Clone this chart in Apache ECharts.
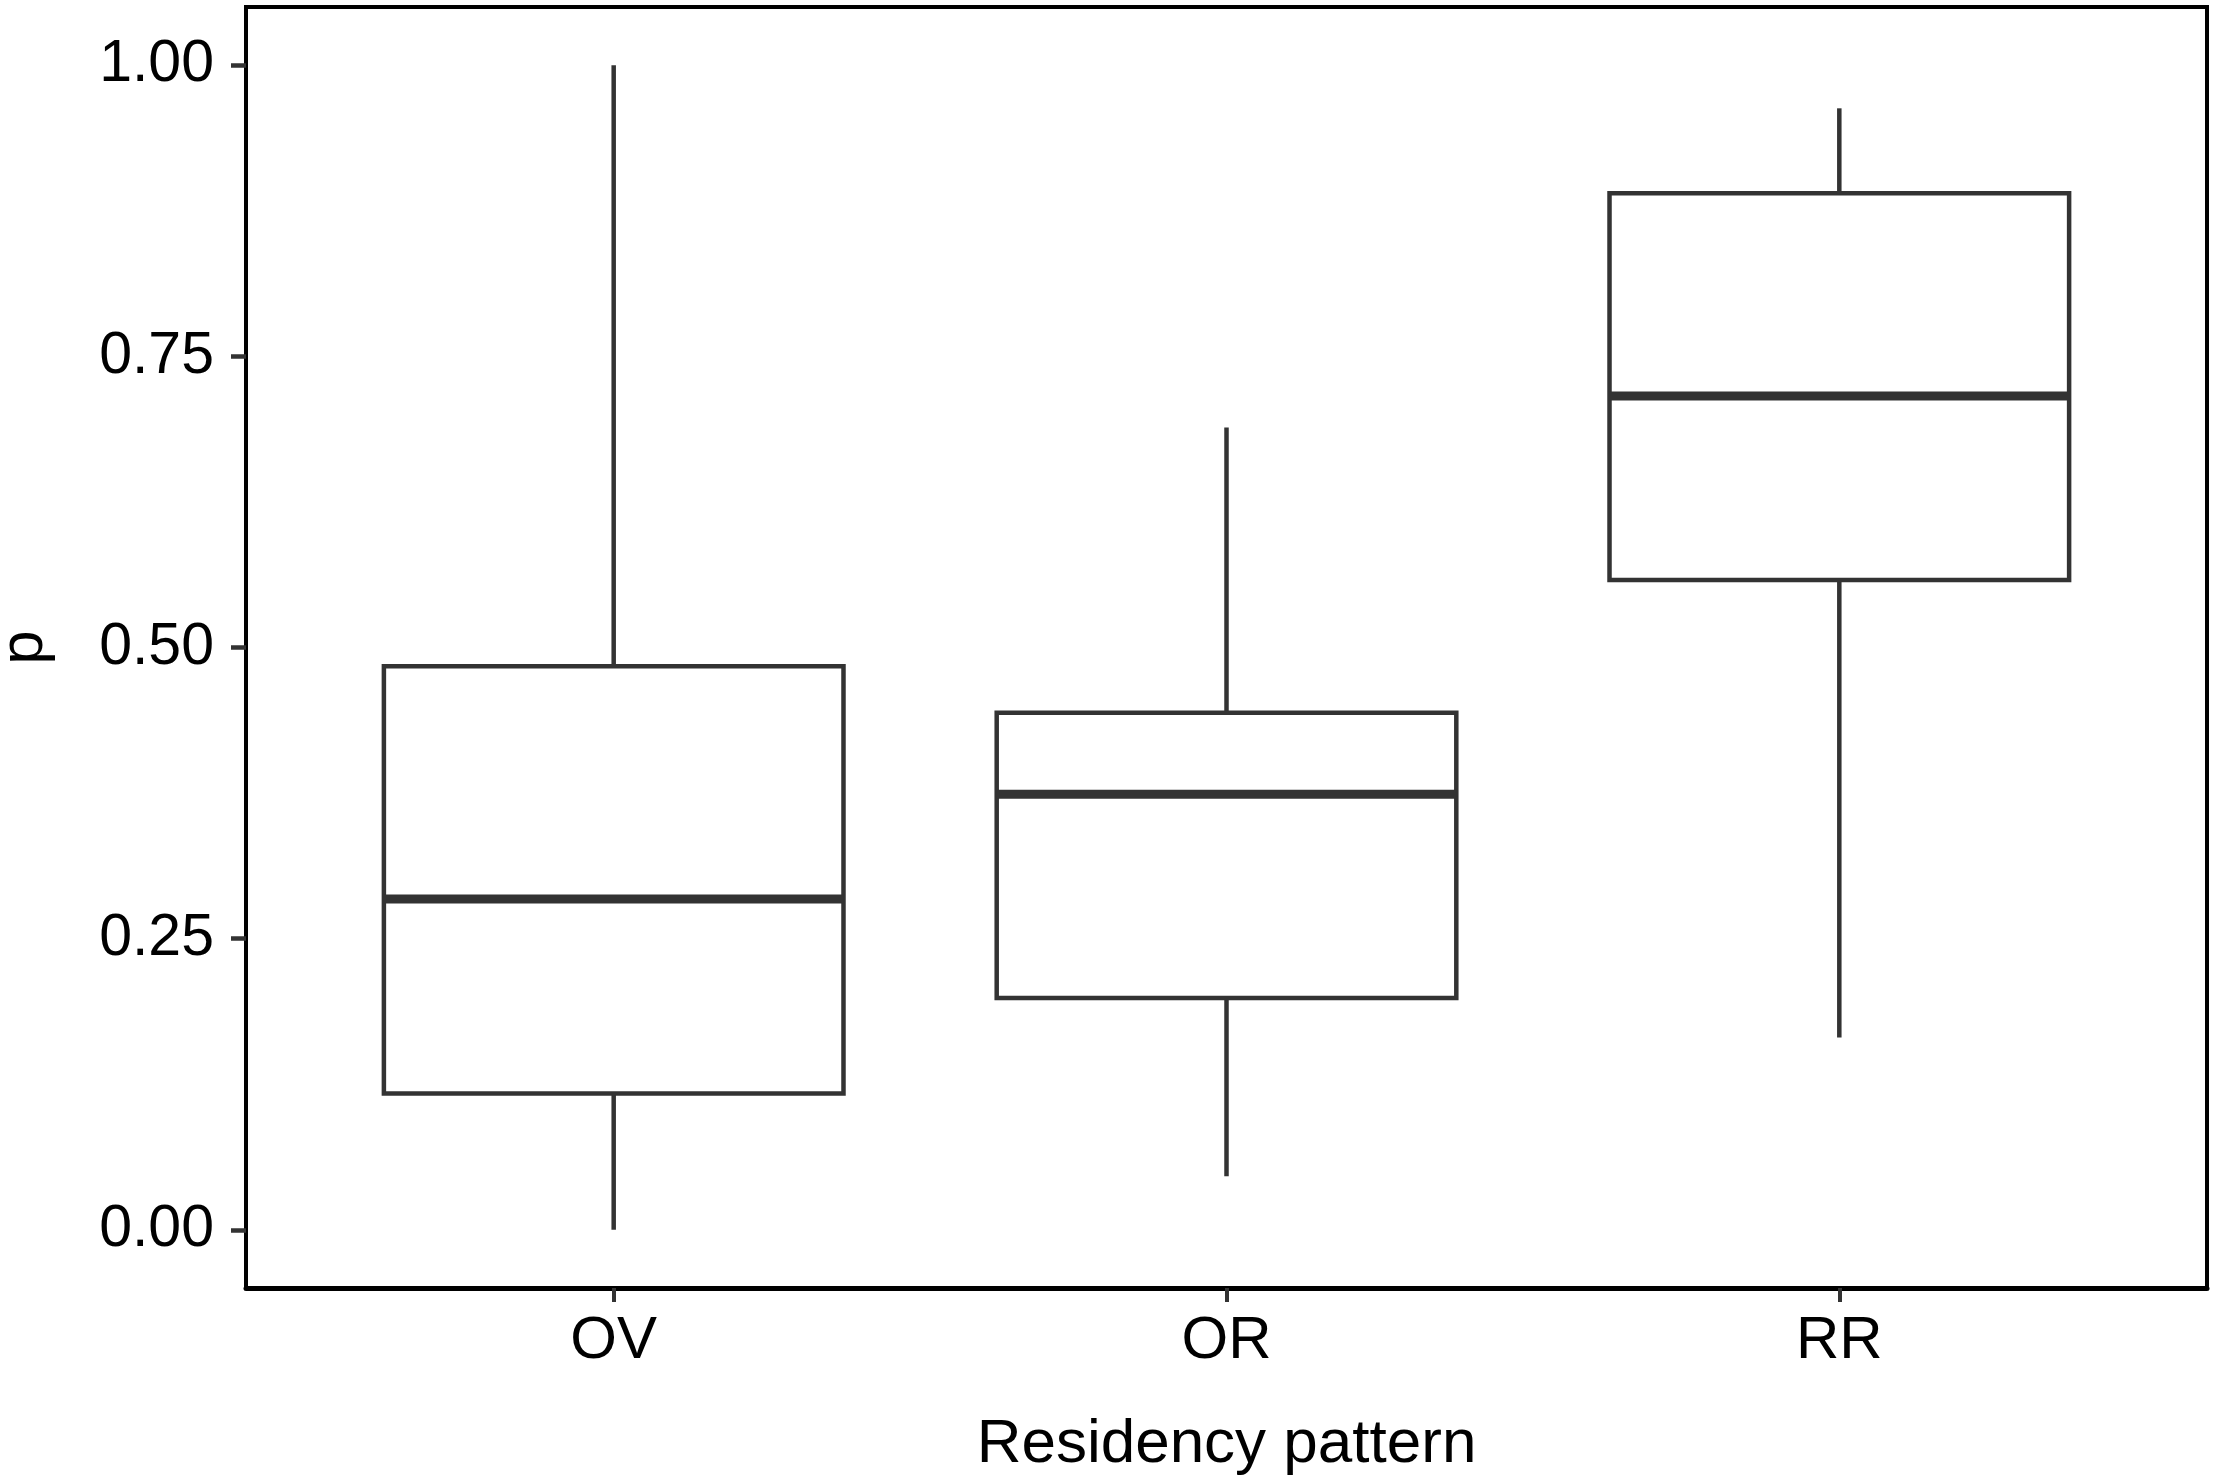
<!DOCTYPE html>
<html>
<head>
<meta charset="utf-8">
<script src="https://cdn.jsdelivr.net/npm/echarts@6/dist/echarts.min.js"></script>
<style>
html,body{margin:0;padding:0;background:#fff;}
#chart{width:2217px;height:1483px;}
</style>
</head>
<body>
<div id="chart"></div>
<script>
// Data
const categories = ['OV', 'OR', 'RR'];
const whiskerLow  = [0.000, 0.046, 0.165];
const quartile1   = [0.117, 0.199, 0.558];
const medians     = [0.284, 0.374, 0.716];
const quartile3   = [0.484, 0.444, 0.890];
const whiskerHigh = [1.000, 0.689, 0.963];
const yTickValues = [0, 0.25, 0.5, 0.75, 1];
const xTickValues = [1, 2, 3];

const FONT = "'Liberation Sans', Arial, sans-serif";
const BOX_COLOR = '#333333';
const BOX_WIDTH = 0.75;

const boxData = categories.map((c, i) => [i + 1, whiskerLow[i], quartile1[i], medians[i], quartile3[i], whiskerHigh[i]]);

const chart = echarts.init(document.getElementById('chart'), null, {renderer: 'canvas'});
chart.setOption({
  backgroundColor: '#ffffff',
  animation: false,
  grid: {
    left: 246, right: 10, top: 7, bottom: 195,
    containLabel: false, outerBoundsMode: 'none',
    show: true, borderColor: '#000000', borderWidth: 4, backgroundColor: 'transparent'
  },
  xAxis: {
    type: 'value', min: 0.4, max: 3.6,
    name: 'Residency pattern', nameLocation: 'middle', nameGap: 126,
    nameTextStyle: {fontFamily: FONT, fontSize: 62, color: '#000'},
    axisLine: {show: true, onZero: false, lineStyle: {color: '#000', width: 5}},
    axisTick: {show: true, length: 14, lineStyle: {color: BOX_COLOR, width: 4}, customValues: xTickValues},
    axisLabel: {show: true, margin: 23, fontFamily: FONT, fontSize: 60, color: '#000',
      customValues: xTickValues,
      formatter: v => categories[Math.round(v) - 1] || ''},
    splitLine: {show: false}
  },
  yAxis: {
    type: 'value', min: -0.05, max: 1.05,
    name: 'p', nameLocation: 'middle', nameGap: 190, nameRotate: 90,
    nameTextStyle: {fontFamily: FONT, fontSize: 62, color: '#000'},
    axisLine: {show: true, onZero: false, lineStyle: {color: '#000', width: 4}},
    axisTick: {show: true, length: 15, lineStyle: {color: BOX_COLOR, width: 4.5}, customValues: yTickValues},
    axisLabel: {show: true, margin: 32, fontFamily: FONT, fontSize: 59, color: '#000',
      customValues: yTickValues,
      formatter: v => v.toFixed(2)},
    splitLine: {show: false}
  },
  series: [{
    type: 'custom',
    data: boxData,
    clip: false,
    renderItem: function (params, api) {
      const x = api.value(0);
      const pLo = api.coord([x, api.value(1)]);
      const pQ1 = api.coord([x, api.value(2)]);
      const pMed = api.coord([x, api.value(3)]);
      const pQ3 = api.coord([x, api.value(4)]);
      const pHi = api.coord([x, api.value(5)]);
      const half = api.size([BOX_WIDTH, 0])[0] / 2;
      const cx = pMed[0];
      const lw = 4.5;
      return {
        type: 'group',
        children: [
          {type: 'line', shape: {x1: cx, y1: pHi[1], x2: cx, y2: pQ3[1]}, style: {stroke: BOX_COLOR, lineWidth: lw}},
          {type: 'line', shape: {x1: cx, y1: pQ1[1], x2: cx, y2: pLo[1]}, style: {stroke: BOX_COLOR, lineWidth: lw}},
          {type: 'rect', shape: {x: cx - half, y: pQ3[1], width: 2 * half, height: pQ1[1] - pQ3[1]},
            style: {fill: '#ffffff', stroke: BOX_COLOR, lineWidth: lw}},
          {type: 'line', shape: {x1: cx - half, y1: pMed[1], x2: cx + half, y2: pMed[1]}, style: {stroke: BOX_COLOR, lineWidth: 9}}
        ]
      };
    }
  }]
});
</script>
</body>
</html>
